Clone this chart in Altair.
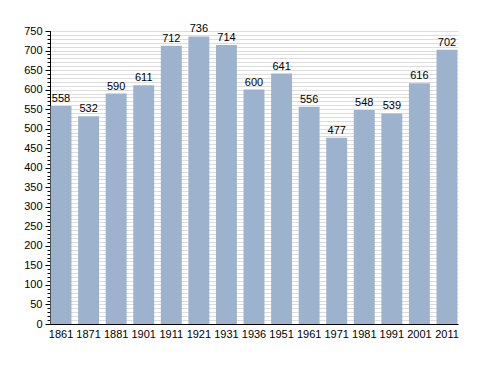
import altair as alt
import pandas as pd

years = ["1861", "1871", "1881", "1901", "1911", "1921", "1931", "1936",
         "1951", "1961", "1971", "1981", "1991", "2001", "2011"]
population = [558, 532, 590, 611, 712, 736, 714, 600, 641, 556, 477, 548, 539, 616, 702]

df = pd.DataFrame({"year": years, "pop": population})

FONT = "Liberation Sans"
x = alt.X("year:N", sort=years, title=None,
          scale=alt.Scale(paddingInner=0.24, paddingOuter=0.02),
          axis=alt.Axis(labelAngle=0, ticks=False, domainColor="black",
                        labelFont=FONT, labelFontSize=11, labelColor="black",
                        labelPadding=4))

yscale = alt.Scale(domain=[0, 750], nice=False)

minor = alt.Chart(df).mark_bar(opacity=0).encode(
    x=x,
    y=alt.Y("pop:Q", scale=yscale, title=None,
            axis=alt.Axis(values=list(range(0, 751, 10)), labels=False,
                          tickSize=3, tickColor="black", domain=False,
                          gridColor="#dddddd", gridWidth=1, orient="left")),
)

bars = alt.Chart(df).mark_bar(color="#9db3cd").encode(
    x=x,
    y=alt.Y("pop:Q", scale=yscale, title=None,
            axis=alt.Axis(values=list(range(0, 751, 50)), tickSize=5,
                          tickColor="black", domainColor="black",
                          gridColor="#aaaaaa", gridWidth=1, orient="left",
                          labelFont=FONT, labelFontSize=11, labelColor="black",
                          labelPadding=3)),
)

text = alt.Chart(df).mark_text(dy=-7, font=FONT, fontSize=11, color="black").encode(
    x=x,
    y=alt.Y("pop:Q", scale=yscale, axis=None),
    text="pop:Q",
)

chart = alt.layer(minor, bars, text).resolve_axis(y="independent").properties(
    width=408, height=293,
    autosize=alt.AutoSizeParams(type="none"),
    padding={"left": 42, "top": 23, "right": 20, "bottom": 40},
).configure_view(stroke=None)

chart.save("out.html", embed_options={"renderer": "svg", "actions": False})
